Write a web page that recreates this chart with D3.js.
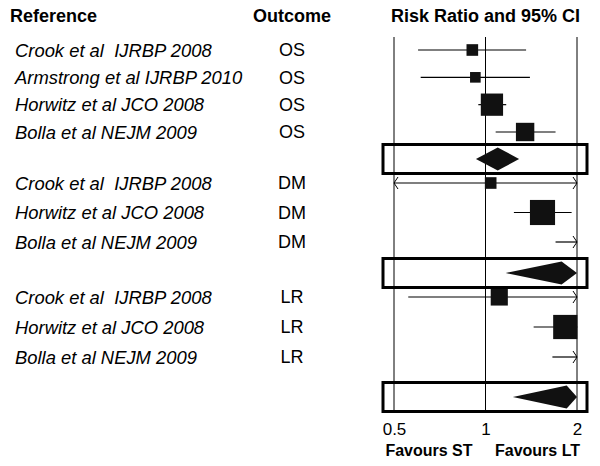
<!DOCTYPE html>
<html>
<head>
<meta charset="utf-8">
<script src="https://cdn.jsdelivr.net/npm/d3@7"></script>
<style>
  body { margin: 0; background: #fff; }
  text { font-family: "Liberation Sans", Arial, sans-serif; fill: #000; }
</style>
</head>
<body>
<div id="chart"></div>
<script>
// study rows
const studyNames = [
    "Crook et al  IJRBP 2008", "Armstrong et al IJRBP 2010", "Horwitz et al JCO 2008", "Bolla et al NEJM 2009",
    "Crook et al  IJRBP 2008", "Horwitz et al JCO 2008", "Bolla et al NEJM 2009",
    "Crook et al  IJRBP 2008", "Horwitz et al JCO 2008", "Bolla et al NEJM 2009"
];
const outcomes = ["OS", "OS", "OS", "OS", "DM", "DM", "DM", "LR", "LR", "LR"];
const rowIndex = [0, 1, 2, 3, 5, 6, 7, 9, 10, 11];
const ratios = [0.905, 0.926, 1.05, 1.35, 1.04, 1.54, 2.4, 1.11, 1.83, 2.5];
const lower = [0.60, 0.612, 0.947, 1.08, 0.45, 1.24, 1.70, 0.557, 1.44, 1.66];
const upper = [1.36, 1.40, 1.17, 1.70, 2.4, 1.92, 3.5, 2.3, 2.3, 3.6];
const weights = [6, 5, 22, 15, 6, 28, 20, 13, 26, 20];

// pooled estimates per outcome
const pooledRow = [4, 8, 12];
const pooledRatio = [1.097, 1.78, 1.85];
const pooledLower = [0.93, 1.165, 1.23];
const pooledUpper = [1.29, 2.4, 2.5];

const tickValues = [0.5, 1, 2];
const headers = ["Reference", "Outcome", "Risk Ratio and 95% CI"];
const favourLabels = ["Favours ST", "Favours LT"];

const width = 600, height = 466;
const svg = d3.select("#chart").append("svg")
    .attr("width", width)
    .attr("height", height);

const x = d3.scaleLog().base(2).domain([0.5, 2]).range([394, 577]);
const y = d3.scaleLinear()
    .domain([0, 3, 4, 5, 7, 8, 9, 11, 12])
    .range([50, 132, 159, 183, 242, 273, 297, 357, 397]);
const side = d3.scaleSqrt().domain([0, 30]).range([0, 26]);
const clampX = v => x(Math.max(0.5, Math.min(2, v)));

const outcomeX = 292;
const plotTop = 37, plotBottom = 412;

// headers
svg.selectAll("text.header")
    .data(headers)
    .join("text")
    .attr("class", "header")
    .attr("x", (d, i) => [10, outcomeX, x(1)][i])
    .attr("y", 22)
    .attr("text-anchor", (d, i) => i === 0 ? "start" : "middle")
    .style("font-size", "18px")
    .style("font-weight", "bold")
    .text(d => d);

// reference lines at the ticks
svg.selectAll("line.ref")
    .data(tickValues)
    .join("line")
    .attr("class", "ref")
    .attr("x1", d => x(d)).attr("x2", d => x(d))
    .attr("y1", plotTop).attr("y2", plotBottom)
    .attr("stroke", "#000")
    .attr("stroke-width", 1);

const rows = studyNames.map((name, i) => ({
    name, outcome: outcomes[i], row: rowIndex[i],
    rr: ratios[i], lo: lower[i], hi: upper[i], w: weights[i]
}));

// left columns
svg.selectAll("text.study")
    .data(rows)
    .join("text")
    .attr("class", "study")
    .attr("x", 15)
    .attr("y", d => y(d.row))
    .attr("dy", "0.36em")
    .style("font-size", "18.4px")
    .style("font-style", "italic")
    .style("white-space", "pre")
    .text(d => d.name);

svg.selectAll("text.outcome")
    .data(rows)
    .join("text")
    .attr("class", "outcome")
    .attr("x", outcomeX)
    .attr("y", d => y(d.row))
    .attr("dy", "0.36em")
    .attr("text-anchor", "middle")
    .style("font-size", "18px")
    .text(d => d.outcome);

// confidence intervals
svg.selectAll("line.ci")
    .data(rows)
    .join("line")
    .attr("class", "ci")
    .attr("x1", d => clampX(d.lo))
    .attr("x2", d => clampX(d.hi))
    .attr("y1", d => y(d.row)).attr("y2", d => y(d.row))
    .attr("stroke", "#000")
    .attr("stroke-width", 1.2);

// arrows where the interval runs off the scale
const arrows = [];
rows.forEach(d => {
    if (d.lo < 0.5) arrows.push({ x: x(0.5), y: y(d.row), dir: -1 });
    if (d.hi > 2) arrows.push({ x: x(2), y: y(d.row), dir: 1 });
});
svg.selectAll("path.arrow")
    .data(arrows)
    .join("path")
    .attr("class", "arrow")
    .attr("d", d => `M${d.x - d.dir * 4},${d.y - 6} L${d.x},${d.y} L${d.x - d.dir * 4},${d.y + 6}`)
    .attr("fill", "none")
    .attr("stroke", "#000")
    .attr("stroke-width", 1);

// study squares (only inside the scale)
svg.selectAll("rect.box")
    .data(rows.filter(d => d.rr >= 0.5 && d.rr <= 2))
    .join("rect")
    .attr("class", "box")
    .attr("x", d => x(d.rr) - side(d.w) / 2)
    .attr("y", d => y(d.row) - side(d.w) / 2)
    .attr("width", d => side(d.w))
    .attr("height", d => side(d.w))
    .attr("fill", "#111");

// pooled rows: framed box + diamond
const pooled = pooledRow.map((r, i) => ({
    row: r, rr: pooledRatio[i], lo: pooledLower[i], hi: pooledUpper[i]
}));
const frameLeft = x.range()[0] - 11, frameRight = x.range()[1] + 10;

svg.selectAll("rect.frame")
    .data(pooled)
    .join("rect")
    .attr("class", "frame")
    .attr("x", frameLeft)
    .attr("y", d => y(d.row) - 14.5)
    .attr("width", frameRight - frameLeft)
    .attr("height", 29)
    .attr("fill", "none")
    .attr("stroke", "#000")
    .attr("stroke-width", 3);

svg.selectAll("path.diamond")
    .data(pooled)
    .join("path")
    .attr("class", "diamond")
    .attr("d", d => {
        const cy = y(d.row), h = 11.5;
        return `M${clampX(d.lo)},${cy} L${clampX(d.rr)},${cy - h} L${clampX(d.hi)},${cy} L${clampX(d.rr)},${cy + h} Z`;
    })
    .attr("fill", "#111");

// axis labels
const axis = d3.axisBottom(x)
    .tickValues(tickValues)
    .tickSize(0)
    .tickPadding(0)
    .tickFormat(d => d);
const axisG = svg.append("g")
    .attr("transform", `translate(0,${plotBottom + 11})`)
    .call(axis);
axisG.select(".domain").remove();
axisG.selectAll("text")
    .attr("fill", "#000")
    .style("font-size", "17px")
    .style("font-family", "'Liberation Sans', Arial, sans-serif");

svg.selectAll("text.favour")
    .data(favourLabels)
    .join("text")
    .attr("class", "favour")
    .attr("x", (d, i) => [429, 537.5][i])
    .attr("y", 456)
    .attr("text-anchor", "middle")
    .style("font-size", "16px")
    .style("font-weight", "bold")
    .text(d => d);
</script>
</body>
</html>
